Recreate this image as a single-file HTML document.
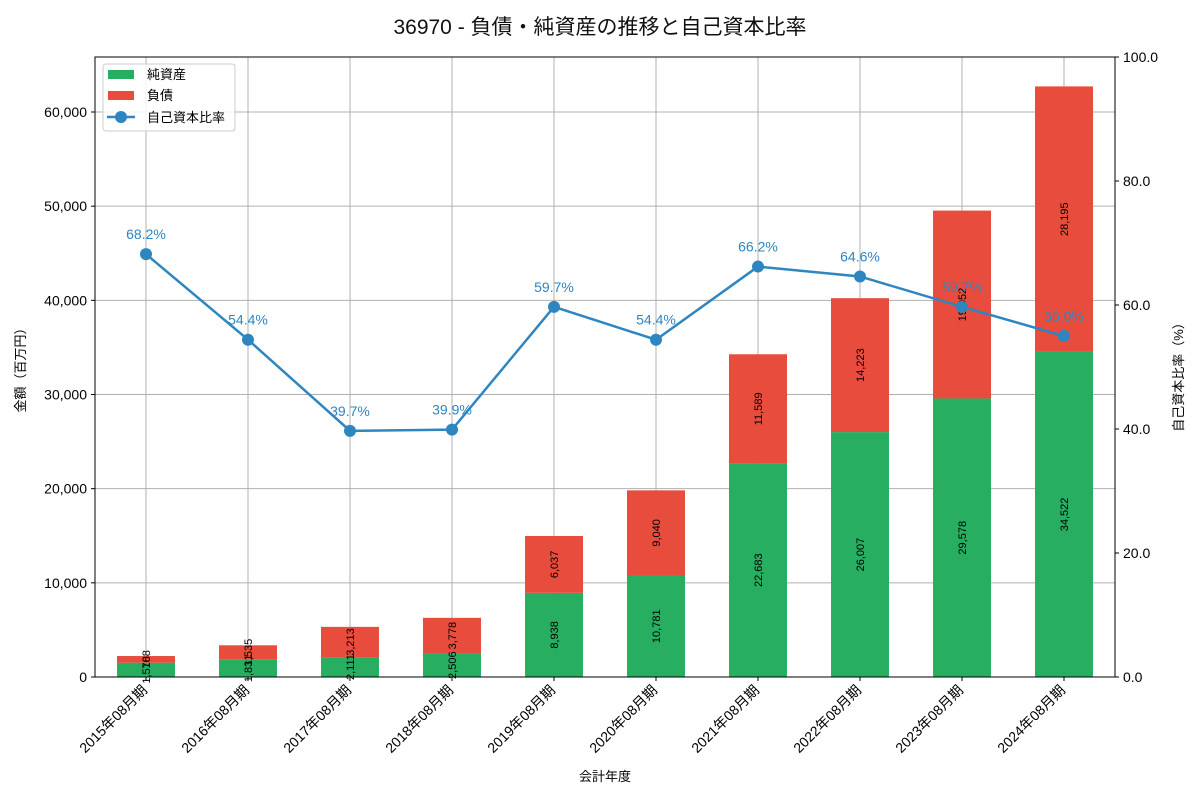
<!DOCTYPE html>
<html><head><meta charset="utf-8"><style>
body{margin:0;background:#fff;}
svg text{font-family:"Liberation Sans","Noto Sans CJK JP",sans-serif;}
</style></head><body>
<svg id="chart" width="1200" height="800" xmlns="http://www.w3.org/2000/svg">
<rect width="1200" height="800" fill="#fff"/>
<text x="600" y="34" text-anchor="middle" font-size="21" fill="#111">36970 - 負債・純資産の推移と自己資本比率</text>
<g id="grid"></g><g id="bars"></g><g id="line"></g><g id="axes"></g>
<g>
<rect x="103" y="64" width="132" height="67" rx="3" fill="#fff" fill-opacity="0.85" stroke="#ccc"/>
<rect x="108" y="70" width="26" height="9" fill="#27ae60"/>
<text x="147" y="79" font-size="13">純資産</text>
<rect x="108" y="91" width="26" height="9" fill="#e74c3c"/>
<text x="147" y="100" font-size="13">負債</text>
<line x1="107" y1="117" x2="135" y2="117" stroke="#2e86c1" stroke-width="2.5"/>
<circle cx="121" cy="117" r="6" fill="#2e86c1"/>
<text x="147" y="122" font-size="13">自己資本比率</text>
</g>
</svg>
<script>
const categories=["2015年08月期","2016年08月期","2017年08月期","2018年08月期","2019年08月期","2020年08月期","2021年08月期","2022年08月期","2023年08月期","2024年08月期"];
const netAssets=[1518,1831,2111,2506,8938,10781,22683,26007,29578,34522];
const liabilities=[708,1535,3213,3778,6037,9040,11589,14223,19952,28195];
const ratio=[68.2,54.4,39.7,39.9,59.7,54.4,66.2,64.6,59.7,55.0];
const leftTicks=[0,10000,20000,30000,40000,50000,60000];
const rightTicks=[0,20,40,60,80,100];
const L=95,R=1115,T=57,B=677,yMax=65840;
const NS="http://www.w3.org/2000/svg";
const y=v=>B-(v/yMax)*(B-T);
const yr=v=>B-(v/100)*(B-T);
const step=(R-L)/categories.length;
const x=i=>L+step*(i+0.5);
const bw=58;
function mk(tag,attrs,parent,txt){const e=document.createElementNS(NS,tag);for(const k in attrs)e.setAttribute(k,attrs[k]);if(txt!==undefined)e.textContent=txt;document.getElementById(parent).appendChild(e);return e;}
const fmt=v=>v.toLocaleString('en-US');
leftTicks.forEach(t=>{
  const g=mk('line',{x1:L,x2:R,y1:y(t),y2:y(t),stroke:'#b0b0b0','stroke-width':1},'grid');
  
  
  mk('line',{x1:L-4,x2:L,y1:y(t),y2:y(t),stroke:'#000'},'axes');
  const lb=mk('text',{x:L-8,y:y(t)+5,'text-anchor':'end','font-size':14},'axes',fmt(t));
  
  
});
rightTicks.forEach(t=>{
  mk('line',{x1:R,x2:R+4,y1:yr(t),y2:yr(t),stroke:'#000'},'axes');
  const lb=mk('text',{x:R+8,y:yr(t)+5,'font-size':14},'axes',t.toFixed(1));
  
  
});
categories.forEach((c,i)=>{
  const cx=x(i);
  const g=mk('line',{x1:cx,x2:cx,y1:T,y2:B,stroke:'#b0b0b0'},'grid');
  
  
  const yn=y(netAssets[i]),yl=y(netAssets[i]+liabilities[i]);
  const b1=mk('rect',{x:cx-bw/2,y:yn,width:bw,height:B-yn,fill:'#27ae60'},'bars');
  
  
  const b2=mk('rect',{x:cx-bw/2,y:yl,width:bw,height:yn-yl,fill:'#e74c3c'},'bars');
  
  
  const m1=(B+yn)/2,m2=(yn+yl)/2;
  const t1=mk('text',{x:0,y:0,transform:`translate(${cx+4},${m1}) rotate(-90)`,'text-anchor':'middle','font-size':11},'bars',fmt(netAssets[i]));
  
  
  const t2=mk('text',{x:0,y:0,transform:`translate(${cx+4},${m2}) rotate(-90)`,'text-anchor':'middle','font-size':11},'bars',fmt(liabilities[i]));
  
  
  mk('line',{x1:cx,x2:cx,y1:B,y2:B+4,stroke:'#000'},'axes');
  const xl=mk('text',{x:0,y:0,transform:`translate(${cx+2},${B+14}) rotate(-45)`,'text-anchor':'end','font-size':14},'axes',c);
  
  
});
const pts=ratio.map((r,i)=>`${x(i)},${yr(r)}`).join(' ');
const pl=mk('polyline',{points:pts,fill:'none',stroke:'#2e86c1','stroke-width':2.5},'line');


ratio.forEach((r,i)=>{
  const c=mk('circle',{cx:x(i),cy:yr(r),r:6,fill:'#2e86c1'},'line');
  
  
  const t=mk('text',{x:x(i),y:yr(r)-15,'text-anchor':'middle','font-size':14,fill:'#2e86c1'},'line',r.toFixed(1)+'%');
  
  
});
const fr=mk('rect',{x:L,y:T,width:R-L,height:B-T,fill:'none',stroke:'#000','stroke-width':1},'axes');


const xt=mk('text',{x:605,y:781,'text-anchor':'middle','font-size':13},'axes','会計年度');


const yt=mk('text',{x:0,y:0,transform:`translate(25,367) rotate(-90)`,'text-anchor':'middle','font-size':13},'axes','金額（百万円）');


const yt2=mk('text',{x:0,y:0,transform:`translate(1183,374) rotate(-90)`,'text-anchor':'middle','font-size':13},'axes','自己資本比率（%）');


</script>
</body></html>
